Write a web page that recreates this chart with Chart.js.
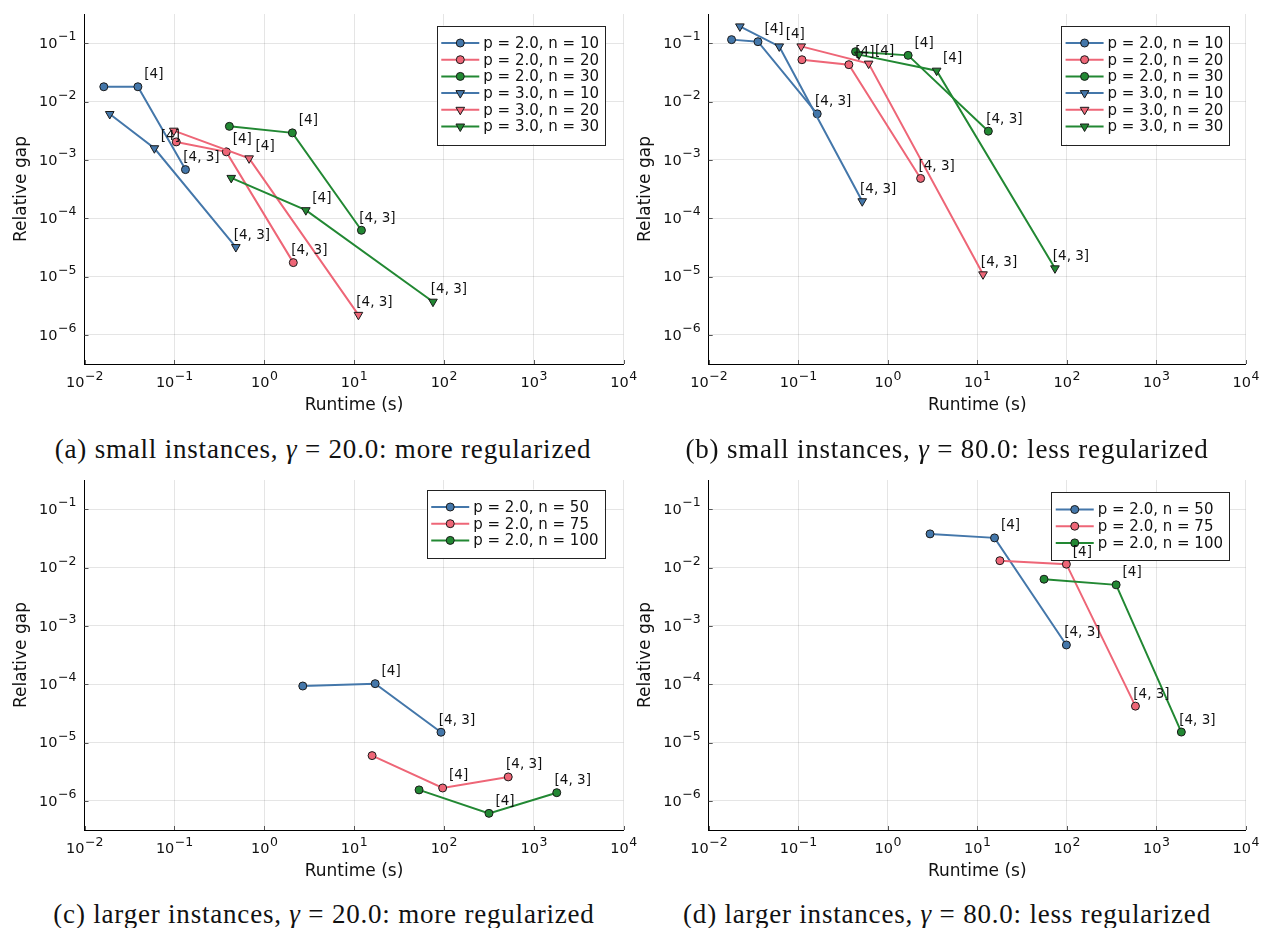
<!DOCTYPE html>
<html>
<head>
<meta charset="utf-8">
<script src="https://cdn.jsdelivr.net/npm/chart.js@4.4.1/dist/chart.umd.min.js"></script>
<style>
  html, body { margin: 0; padding: 0; background: #fff; }
  #page { position: relative; width: 1262px; height: 928px; overflow: hidden; }
  .panel { position: absolute; height: 420px; }
  .caption {
    position: absolute; white-space: nowrap; transform: translateX(-50%);
    font-family: 'Liberation Serif', 'DejaVu Serif', serif; font-size: 27px; line-height: 30px;
    letter-spacing: 0.8px; color: #111;
  }
</style>
</head>
<body>
<div id="page">
  <div class="panel" style="left:0;top:0"><canvas id="chart-a" width="650" height="420"></canvas></div>
  <div class="panel" style="left:631px;top:0"><canvas id="chart-b" width="631" height="420"></canvas></div>
  <div class="panel" style="left:0;top:466px"><canvas id="chart-c" width="650" height="420"></canvas></div>
  <div class="panel" style="left:631px;top:466px"><canvas id="chart-d" width="631" height="420"></canvas></div>
  <div class="caption" style="left:323px;top:434px">(a) small instances, <i>γ</i> = 20.0: more regularized</div>
  <div class="caption" style="left:947px;top:434px">(b) small instances, <i>γ</i> = 80.0: less regularized</div>
  <div class="caption" style="left:324px;top:899px">(c) larger instances, <i>γ</i> = 20.0: more regularized</div>
  <div class="caption" style="left:947px;top:899px">(d) larger instances, <i>γ</i> = 80.0: less regularized</div>
</div>
<script>
// ── Data ────────────────────────────────────────────────────────────────
const xTicks = [1e-2, 1e-1, 1e0, 1e1, 1e2, 1e3, 1e4];
const yTicks = [1e-6, 1e-5, 1e-4, 1e-3, 1e-2, 1e-1];
const pointNotes = ['', '[4]', '[4, 3]'];

const smallLabels = ['p = 2.0, n = 10', 'p = 2.0, n = 20', 'p = 2.0, n = 30',
                     'p = 3.0, n = 10', 'p = 3.0, n = 20', 'p = 3.0, n = 30'];
const largeLabels = ['p = 2.0, n = 50', 'p = 2.0, n = 75', 'p = 2.0, n = 100'];

// (a) small instances, gamma = 20
const runtimeA = [
    [0.0164, 0.0393, 0.133],
    [0.105, 0.379, 2.11],
    [0.41, 2.06, 12.1],
    [0.0191, 0.060, 0.484],
    [0.0986, 0.68, 11.2],
    [0.43, 2.91, 75.7],
];
const gapA = [
    [0.0179, 0.0179, 6.8e-4],
    [0.00203, 0.00137, 1.73e-5],
    [0.00375, 0.0029, 6.2e-5],
    [0.0061, 0.00158, 3.2e-5],
    [0.00316, 0.00106, 2.2e-6],
    [4.9e-4, 1.37e-4, 3.7e-6],
];

// (b) small instances, gamma = 80
const runtimeB = [
    [0.018, 0.0355, 0.163],
    [0.11, 0.368, 2.33],
    [0.437, 1.69, 13.3],
    [0.0223, 0.0614, 0.519],
    [0.108, 0.612, 11.6],
    [0.476, 3.52, 73.8],
];
const gapB = [
    [0.115, 0.106, 0.00614],
    [0.052, 0.0428, 4.8e-4],
    [0.0715, 0.0618, 0.0031],
    [0.194, 0.088, 1.95e-4],
    [0.088, 0.0446, 1.09e-5],
    [0.0636, 0.0338, 1.38e-5],
];

// (c) larger instances, gamma = 20
const runtimeC = [
    [2.69, 17.2, 93],
    [15.9, 97, 521],
    [53, 318, 1807],
];
const gapC = [
    [9.3e-5, 1.02e-4, 1.5e-5],
    [5.96e-6, 1.66e-6, 2.57e-6],
    [1.54e-6, 6.1e-7, 1.38e-6],
];

// (d) larger instances, gamma = 80
const runtimeD = [
    [2.97, 15.6, 99],
    [17.9, 99, 585],
    [55.7, 356, 1905],
];
const gapD = [
    [0.0377, 0.0322, 4.7e-4],
    [0.0131, 0.0114, 4.2e-5],
    [0.0063, 0.00504, 1.51e-5],
];

// ── Styling ─────────────────────────────────────────────────────────────
const palette = ['#4477AA', '#EE6677', '#228833'];
const FONT = "'DejaVu Sans', sans-serif";
const INK = '#111';

function makeDatasets(labels, runtimes, gaps) {
    return labels.map((label, i) => {
        const tri = i >= 3;
        const color = palette[i % 3];
        return {
            label,
            data: runtimes[i].map((x, j) => ({ x, y: gaps[i][j] })),
            notes: pointNotes,
            showLine: true,
            borderColor: color,
            backgroundColor: color,
            borderWidth: 2,
            pointStyle: tri ? 'triangle' : 'circle',
            pointRotation: tri ? 180 : 0,
            pointRadius: tri ? 5 : 4,
            pointHoverRadius: tri ? 5 : 4,
            pointBorderColor: '#1a1a1a',
            pointBorderWidth: 1,
            order: labels.length - i,
        };
    });
}

/* ── Tick labels as 10^k with raised exponent, plus inner tick marks ── */
const powerTicks = {
    id: 'powerTicks',
    afterDraw(chart) {
        const { ctx, chartArea, scales } = chart;
        ctx.save();
        ctx.fillStyle = INK;
        ctx.textBaseline = 'middle';
        ctx.textAlign = 'left';
        const parts = v => {
            const e = Math.round(Math.log10(v));
            return e < 0 ? '\u2212' + (-e) : String(e);
        };
        const widths = exp => {
            ctx.font = '14.5px ' + FONT;
            const w1 = ctx.measureText('10').width;
            ctx.font = '12.5px ' + FONT;
            const w2 = ctx.measureText(exp).width;
            return [w1, w2];
        };
        const put = (x, y, exp, w1) => {
            ctx.font = '14.5px ' + FONT;
            ctx.fillText('10', x, y);
            ctx.font = '12.5px ' + FONT;
            ctx.fillText(exp, x + w1 + 0.5, y - 7);
        };
        scales.x.ticks.forEach(t => {
            const px = scales.x.getPixelForValue(t.value);
            const exp = parts(t.value);
            const [w1, w2] = widths(exp);
            put(px - (w1 + w2) / 2, chartArea.bottom + 19.5, exp, w1);
        });
        scales.y.ticks.forEach(t => {
            const py = scales.y.getPixelForValue(t.value);
            const exp = parts(t.value);
            const [w1, w2] = widths(exp);
            put(chartArea.left - 8.5 - w1 - w2, py + 1, exp, w1);
        });
        // small inward tick marks
        ctx.strokeStyle = '#555';
        ctx.lineWidth = 1;
        ctx.beginPath();
        scales.x.ticks.forEach(t => {
            const px = Math.round(scales.x.getPixelForValue(t.value)) + 0.5;
            ctx.moveTo(px, chartArea.bottom);
            ctx.lineTo(px, chartArea.bottom - 4);
        });
        scales.y.ticks.forEach(t => {
            const py = Math.round(scales.y.getPixelForValue(t.value)) + 0.5;
            ctx.moveTo(chartArea.left, py);
            ctx.lineTo(chartArea.left + 4, py);
        });
        ctx.stroke();
        ctx.restore();
    },
};

/* ── Boxed legend inside the plot + point annotations ─────────────────── */
const boxLegend = {
    id: 'boxLegend',
    afterDatasetsDraw(chart, args, opts) {
        const { ctx, chartArea } = chart;
        const sets = chart.data.datasets;
        ctx.save();
        ctx.font = '15px ' + FONT;
        const textW = Math.max(...sets.map(d => ctx.measureText(d.label).width));
        const rowH = 16.7;
        const boxW = 46.5 + textW + 6;
        const boxH = (sets.length - 1) * rowH + 35;
        const right = chartArea.right - opts.rightGap;
        const left = right - boxW;
        const top = chartArea.top + opts.topGap;
        ctx.fillStyle = '#fff';
        ctx.fillRect(left, top, boxW, boxH);
        ctx.strokeStyle = '#222';
        ctx.lineWidth = 1;
        ctx.strokeRect(Math.round(left) + 0.5, Math.round(top) + 0.5, Math.round(boxW), Math.round(boxH));
        sets.forEach((d, i) => {
            const y = top + 17.5 + i * rowH;
            ctx.strokeStyle = d.borderColor;
            ctx.lineWidth = 2;
            ctx.beginPath();
            ctx.moveTo(left + 4.5, y);
            ctx.lineTo(left + 42.5, y);
            ctx.stroke();
            ctx.fillStyle = d.backgroundColor;
            ctx.strokeStyle = d.pointBorderColor;
            ctx.lineWidth = 1;
            Chart.helpers.drawPoint(ctx, {
                pointStyle: d.pointStyle, rotation: d.pointRotation,
                radius: d.pointRadius, borderWidth: 1,
            }, left + 23.5, y);
            ctx.fillStyle = INK;
            ctx.textBaseline = 'middle';
            ctx.textAlign = 'left';
            ctx.font = '15px ' + FONT;
            ctx.fillText(d.label, left + 46.5, y + 1);
        });

        // annotations next to the points
        ctx.font = '13.5px ' + FONT;
        ctx.fillStyle = INK;
        ctx.textAlign = 'center';
        ctx.textBaseline = 'middle';
        sets.forEach((d, i) => {
            const meta = chart.getDatasetMeta(i);
            meta.data.forEach((el, j) => {
                const note = d.notes[j];
                if (note) ctx.fillText(note, el.x + 16, el.y - 12);
            });
        });
        ctx.restore();
    },
};

function renderPanel(canvasId, datasets, geom) {
    const ctx = document.getElementById(canvasId);
    return new Chart(ctx, {
        type: 'scatter',
        data: { datasets },
        options: {
            responsive: false,
            animation: false,
            events: [],
            layout: { padding: { top: 14, right: geom.padRight, bottom: 0, left: 0 } },
            scales: {
                x: {
                    type: 'logarithmic',
                    min: xTicks[0],
                    max: xTicks[xTicks.length - 1],
                    bounds: 'data',
                    afterBuildTicks: s => { s.ticks = xTicks.map(v => ({ value: v })); },
                    afterFit: s => { s.height = 56; },
                    ticks: { display: false },
                    grid: { color: 'rgba(0,0,0,0.1)', lineWidth: 1, drawTicks: false },
                    border: { display: true, color: '#000', width: 1 },
                    title: {
                        display: true, text: 'Runtime (s)', color: INK,
                        font: { family: FONT, size: 17 }, padding: { top: 0, bottom: 3.8 },
                    },
                },
                y: {
                    type: 'logarithmic',
                    min: Math.pow(10, -6.5),
                    max: Math.pow(10, -0.5),
                    bounds: 'data',
                    afterBuildTicks: s => { s.ticks = yTicks.map(v => ({ value: v })); },
                    afterFit: s => { s.width = geom.axisLeft; },
                    ticks: { display: false },
                    grid: { color: 'rgba(0,0,0,0.1)', lineWidth: 1, drawTicks: false },
                    border: { display: true, color: '#000', width: 1 },
                    title: {
                        display: true, text: 'Relative gap', color: INK,
                        font: { family: FONT, size: 17 }, padding: { top: geom.titlePad, bottom: 0 },
                    },
                },
            },
            plugins: {
                legend: { display: false },
                tooltip: { enabled: false },
                boxLegend: { rightGap: geom.legendGap, topGap: geom.legendTop },
            },
        },
        plugins: [boxLegend, powerTicks],
    });
}

const leftGeom = { axisLeft: 84.5, padRight: 26.5, titlePad: 11.8 };
const rightGeom = { axisLeft: 77.7, padRight: 16.2, titlePad: 4.8 };

renderPanel('chart-a', makeDatasets(smallLabels, runtimeA, gapA),
    { ...leftGeom, legendGap: 18.5, legendTop: 11.5 });
renderPanel('chart-b', makeDatasets(smallLabels, runtimeB, gapB),
    { ...rightGeom, legendGap: 16.5, legendTop: 11.5 });
renderPanel('chart-c', makeDatasets(largeLabels, runtimeC, gapC),
    { ...leftGeom, legendGap: 19, legendTop: 9.5 });
renderPanel('chart-d', makeDatasets(largeLabels, runtimeD, gapD),
    { ...rightGeom, legendGap: 16.8, legendTop: 12 });
</script>
</body>
</html>
